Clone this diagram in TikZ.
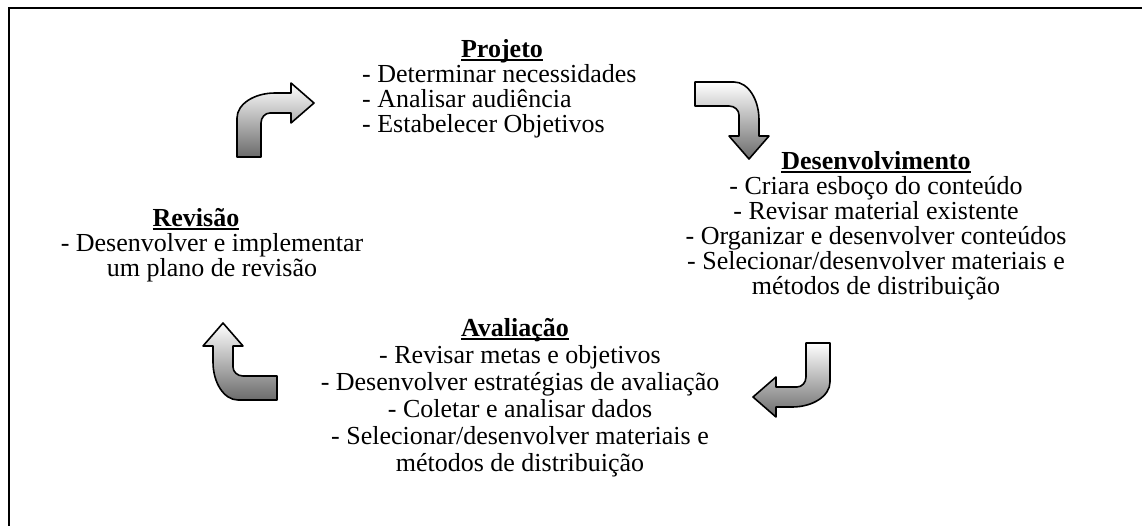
\documentclass[tikz,border=0pt]{standalone}
\usepackage{fontspec}
\setmainfont{Liberation Serif}

% sublinhado fino logo abaixo da linha de base
\newcommand{\sublinha}[1]{\setbox0\hbox{#1}\rlap{\rule[-3.5pt]{\wd0}{1.8pt}}\box0}

% seta curva (sobe e vira para a direita), origem no canto de baixo da haste
\newcommand{\setapath}{(0,0) -- (24,0) -- (24,34) arc[start angle=180, end angle=90, x radius=9, y radius=10] -- (54,44) -- (54,34) -- (77,54) -- (54,74) -- (54,64) -- (38,64) arc[start angle=90, end angle=180, x radius=38, y radius=25] -- cycle}

\tikzset{
	txt/.style={inner sep=0pt, anchor=base, font=\fontsize{26}{25}\selectfont},
	ttl/.style={txt, font=\fontsize{26}{25}\selectfont\bfseries},
	seta/.style={draw=black, line width=1.6pt, line join=round, top color=white, bottom color=black!58}
}

\begin{document}
\begin{tikzpicture}[x=1pt, y=1pt]
	\useasboundingbox (0,0) rectangle (1142,-525);
	\clip (0,0) rectangle (1142,-525);
	
	% moldura
	\draw[line width=1.8pt] (9,-8) rectangle (1170,-560);
	
	% textos
	
	\node[ttl] (projT) at (502,-57) {\sublinha{Projeto}};
	\node[txt, anchor=north west, align=left] (projC) at (362,-64.6) {- Determinar necessidades\\- Analisar audiência\\- Estabelecer Objetivos};
	
	\node[ttl] (desT) at (876,-169) {\sublinha{Desenvolvimento}};
	\node[txt, anchor=north, align=center] (desC) at (876,-176.6) {- Criara esboço do conteúdo\\- Revisar material existente\\- Organizar e desenvolver conteúdos\\- Selecionar/desenvolver materiais e\\métodos de distribuição};
	
	\node[ttl] (avaT) at (515,-336) {\sublinha{Avaliação}};
	\node[txt, anchor=north, align=center, font=\fontsize{26}{27}\selectfont] (avaC) at (520,-345.6) {- Revisar metas e objetivos\\- Desenvolver estratégias de avaliação\\- Coletar e analisar dados\\- Selecionar/desenvolver materiais e\\métodos de distribuição};
	
	\node[ttl] (revT) at (196,-226) {\sublinha{Revisão}};
	\node[txt, anchor=north, align=center] (revC) at (212,-233.6) {- Desenvolver e implementar\\um plano de revisão};
	
	% setas
	
	\begin{scope}[shift={(237,-157)}]
		\draw[seta] \setapath;
	\end{scope}
	\begin{scope}[shift={(695,-82)}, rotate=-90]
		\draw[seta] \setapath;
	\end{scope}
	\begin{scope}[shift={(830,-343)}, rotate=180]
		\draw[seta] \setapath;
	\end{scope}
	\begin{scope}[shift={(277,-400)}, rotate=90]
		\draw[seta] \setapath;
	\end{scope}
	
\end{tikzpicture}
\end{document}
